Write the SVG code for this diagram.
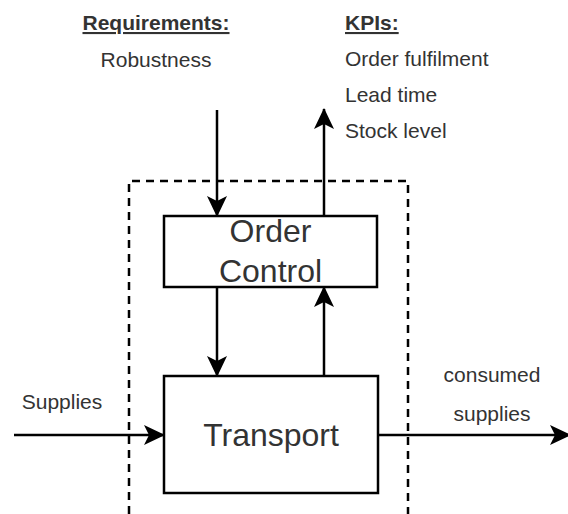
<svg xmlns="http://www.w3.org/2000/svg" width="568" height="514" viewBox="0 0 568 514">
<style>
text{font-family:"Liberation Sans",Arial,sans-serif;fill:#333333}
.lbl{font-size:21px}
.hdr{font-size:21px;font-weight:bold;text-decoration:underline}
.big{font-size:32px;text-anchor:middle}
.box{fill:#ffffff;stroke:#000000;stroke-width:2.5}
.c{stroke:#000000;stroke-width:2.5;fill:none;marker-end:url(#ah)}
.dash{stroke:#000000;stroke-width:2.5;fill:none;stroke-dasharray:8 6}
</style>
<defs>
<marker id="ah" viewBox="0 0 21 20" refX="20" refY="10" markerWidth="21" markerHeight="20" markerUnits="userSpaceOnUse" orient="auto">
<path d="M0,0 L21,10 L0,20 L5,10 Z" fill="#000000"/>
</marker>
</defs>
<rect width="568" height="514" fill="#ffffff"/>
<g id="boundary">
<path class="dash" d="M129,514 L129,181 L408,181 L408,514"/>
</g>
<g id="labels">
<text class="hdr" x="156" y="30" text-anchor="middle">Requirements:</text>
<text class="lbl" x="156" y="67" text-anchor="middle">Robustness</text>
<text class="hdr" x="345" y="30">KPIs:</text>
<text class="lbl" x="345" y="66">Order fulfilment</text>
<text class="lbl" x="345" y="102">Lead time</text>
<text class="lbl" x="345" y="138">Stock level</text>
<text class="lbl" x="62" y="409" text-anchor="middle">Supplies</text>
<text class="lbl" x="492" y="382" text-anchor="middle">consumed</text>
<text class="lbl" x="492" y="421" text-anchor="middle">supplies</text>
</g>
<g id="connectors">
<line class="c" x1="217" y1="110" x2="217" y2="216"/>
<line class="c" x1="324" y1="216" x2="324" y2="109"/>
<line class="c" x1="217" y1="287" x2="217" y2="376"/>
<line class="c" x1="324" y1="376" x2="324" y2="287"/>
<line class="c" x1="14" y1="435" x2="164" y2="435"/>
<line class="c" x1="378" y1="435" x2="570" y2="435"/>
</g>
<g id="order-control">
<rect class="box" x="164" y="216" width="213" height="71"/>
<text class="big" x="270.5" y="242">Order</text>
<text class="big" x="270.5" y="282">Control</text>
</g>
<g id="transport">
<rect class="box" x="164" y="376" width="214" height="117"/>
<text class="big" x="271" y="446">Transport</text>
</g>
</svg>
